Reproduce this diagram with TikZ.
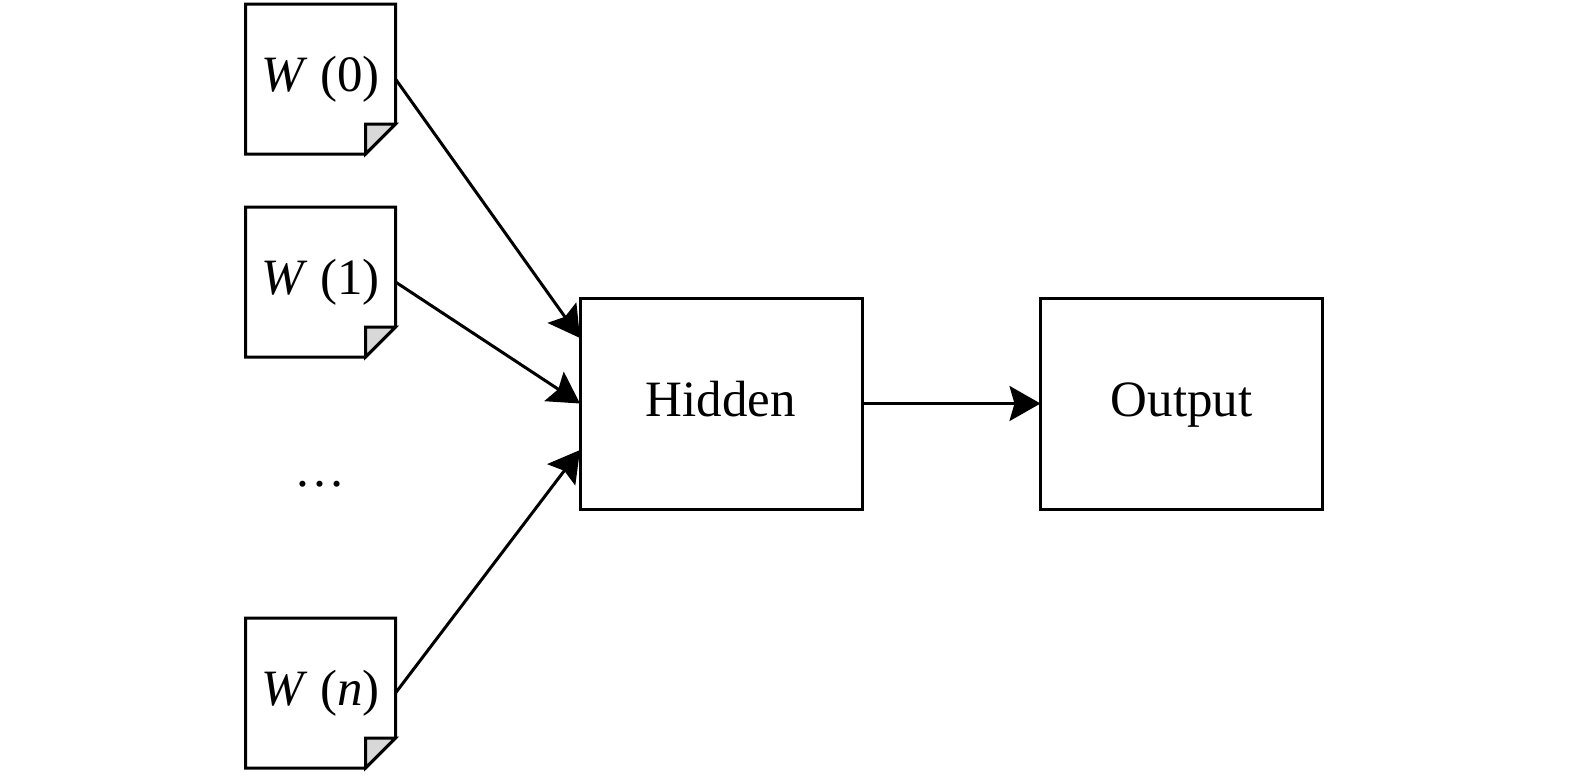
\documentclass[tikz,border=0pt]{standalone}
\usepackage{fontspec}
\setmainfont{Liberation Serif}
\usepackage{tikz}
\usepackage{xcolor}
\usetikzlibrary{arrows.meta}

\definecolor{foldgray}{RGB}{216,216,216}

\begin{document}
\begin{tikzpicture}
            % Define styles
            \tikzstyle{weight} = [rectangle, minimum width=3cm, minimum height=3cm, inner sep=0pt, outer sep=0pt, font=\fontsize{29}{34}\selectfont]
            \tikzstyle{layer} = [rectangle, minimum width=5.64cm, minimum height=4.22cm, inner sep=0pt, outer sep=0pt, draw=black, line width=0.06cm, text height=0.7cm, text depth=0.2cm, font=\fontsize{29}{34}\selectfont]
            \tikzstyle{arrow} = [line width=0.06cm, -{Stealth[length=0.62cm, width=0.7cm, inset=0.1cm]}]
            \tikzstyle{docline} = [line width=0.06cm, line join=miter]

            \useasboundingbox (0,0) rectangle (31.5,-15.52);

            % Weight documents - left column
            \node (w0) [weight] at (6.41,-1.58) {\textit{W} (0)};
            \node (w1) [weight] at (6.41,-5.64) {\textit{W} (1)};
            \node (dots) [font=\fontsize{29}{34}\selectfont] at (6.4,-9.68) {\dots};
            \node (wn) [weight] at (6.41,-13.86) {\textit{W} (\textit{n})};

            % Outline with folded corner
            \foreach \n in {w0,w1,wn} {
                \draw [docline] (\n.north west) -- (\n.north east) -- ([yshift=0.6cm]\n.south east)
                    -- ([xshift=-0.6cm]\n.south east) -- (\n.south west) -- cycle;
                \filldraw [docline, fill=foldgray] ([xshift=-0.6cm, yshift=0.6cm]\n.south east)
                    -- ([yshift=0.6cm]\n.south east) -- ([xshift=-0.6cm]\n.south east) -- cycle;
            }

            % Layers
            \node (hidden) [layer] at (14.42,-8.07) {Hidden};
            \node (output) [layer] at (23.63,-8.07) {Output};

            % Arrows
            \draw [arrow] (w0.east) -- ([yshift=1.31cm]hidden.west);
            \draw [arrow] (w1.east) -- (hidden.west);
            \draw [arrow] (wn.east) -- ([yshift=-0.93cm]hidden.west);
            \draw [arrow] (hidden) -- (output);
        \end{tikzpicture}
\end{document}
